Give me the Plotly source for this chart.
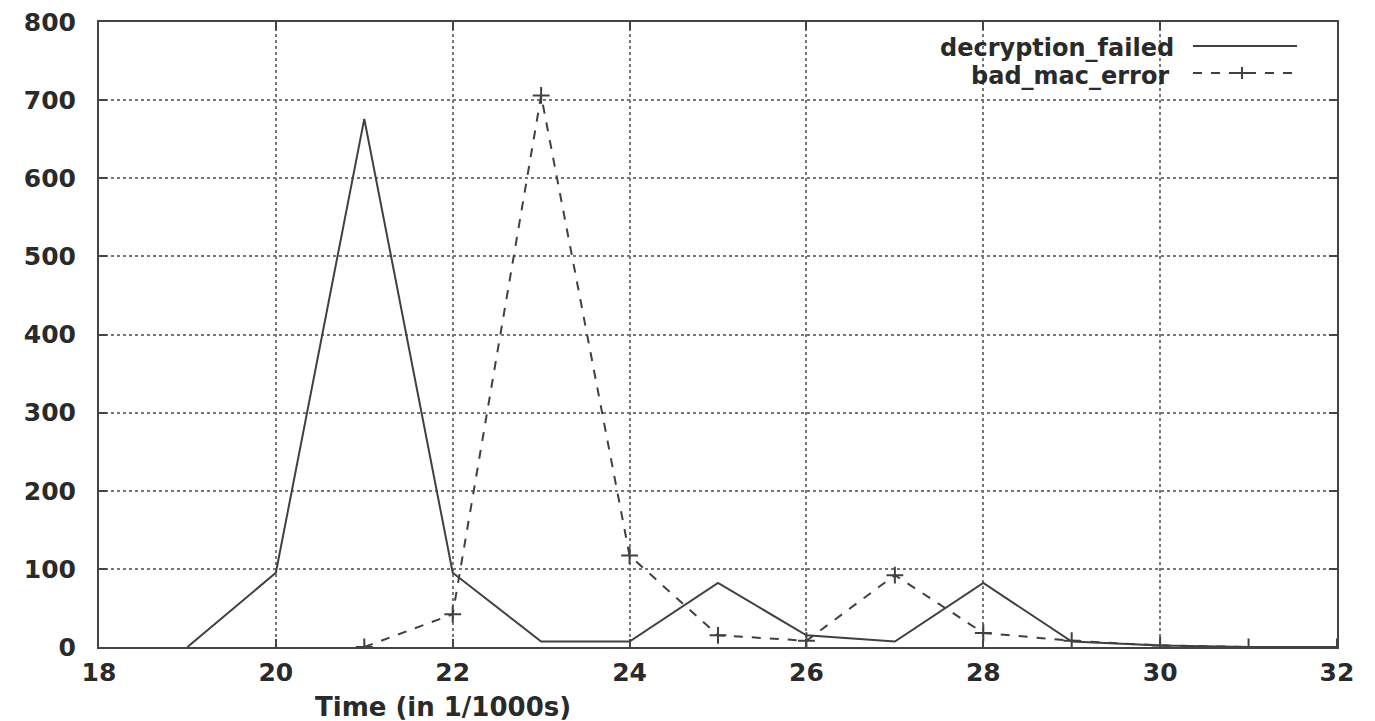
import plotly.graph_objects as go

time = [19, 20, 21, 22, 23, 24, 25, 26, 27, 28, 29, 30, 31, 32]
decryption_failed = [0, 95, 676, 95, 7, 7, 82, 15, 7, 82, 7, 2, 0, 0]
time_mac = [21, 22, 23, 24, 25, 26, 27, 28, 29, 30, 31, 32]
bad_mac_error = [0, 42, 706, 117, 15, 8, 92, 18, 8, 2, 0, 0]

x_ticks = [18, 20, 22, 24, 26, 28, 30, 32]
y_ticks = [0, 100, 200, 300, 400, 500, 600, 700, 800]

FONT = "DejaVu Sans"
INK = "#2a2a2a"
LINE = "#404040"

# plot-area geometry in page pixels (used only to place the hand-made legend/title)
L, R, T, B = 99, 1337, 22, 647
PW, PH = R - L, B - T


def px(x):
    return (x - L) / PW


def py(y):
    return (B - y) / PH


fig = go.Figure()
fig.add_trace(go.Scatter(x=time, y=decryption_failed, mode="lines",
                         line=dict(color=LINE, width=2),
                         name="decryption_failed", showlegend=False))
fig.add_trace(go.Scatter(x=time_mac, y=bad_mac_error, mode="lines+markers",
                         line=dict(color=LINE, width=2, dash="dash"),
                         marker=dict(symbol="cross-thin", size=12,
                                     line=dict(color=LINE, width=2)),
                         name="bad_mac_error", showlegend=False))

axis_common = dict(showline=True, linecolor="#444", linewidth=2, mirror="ticks",
                   ticks="inside", ticklen=8, tickcolor="#444", tickwidth=1.5,
                   showgrid=True, gridcolor="#777", griddash="dot", gridwidth=1.5,
                   zeroline=False, ticklabeloverflow="allow", automargin=False,
                   tickfont=dict(family=FONT, size=25, color=INK, weight="bold"))

fig.update_xaxes(range=[18, 32], tickvals=x_ticks, ticklabelstandoff=2, **axis_common)
fig.update_yaxes(range=[0, 800], tickvals=y_ticks, ticklabelstandoff=16, **axis_common)

# gnuplot-style key: text right-aligned, sample to its right
key_font = dict(family=FONT, size=24, color=INK, weight="bold")
fig.add_annotation(xref="paper", yref="paper", x=px(1175), y=py(48),
                   text="decryption_failed", showarrow=False, xanchor="right", yanchor="middle",
                   height=28, borderpad=0, font=key_font)
fig.add_annotation(xref="paper", yref="paper", x=px(1170), y=py(76),
                   text="bad_mac_error", showarrow=False, xanchor="right", yanchor="middle",
                   height=28, borderpad=0, font=key_font)
fig.add_shape(type="line", xref="paper", yref="paper",
              x0=px(1193), x1=px(1297), y0=py(46), y1=py(46),
              line=dict(color=LINE, width=2))
fig.add_shape(type="line", xref="paper", yref="paper",
              x0=px(1193), x1=px(1297), y0=py(73), y1=py(73),
              line=dict(color=LINE, width=2, dash="dash"))
fig.add_shape(type="line", xref="paper", yref="paper",
              x0=px(1242), x1=px(1242), y0=py(79), y1=py(67),
              line=dict(color=LINE, width=2))
fig.add_shape(type="line", xref="paper", yref="paper",
              x0=px(1236), x1=px(1248), y0=py(73), y1=py(73),
              line=dict(color=LINE, width=2))

fig.add_annotation(xref="paper", yref="paper", x=px(443), y=py(707),
                   text="Time (in 1/1000s)", showarrow=False, xanchor="center", yanchor="middle",
                   font=dict(family=FONT, size=26, color=INK, weight="bold"))

# page body adds an 8px offset, so margins are shifted accordingly
fig.update_layout(width=1375, height=721,
                  margin=dict(l=L - 8, r=1375 - R + 8, t=T - 8, b=721 - B + 8),
                  paper_bgcolor="white", plot_bgcolor="white",
                  showlegend=False)

fig.write_html("out.html")
